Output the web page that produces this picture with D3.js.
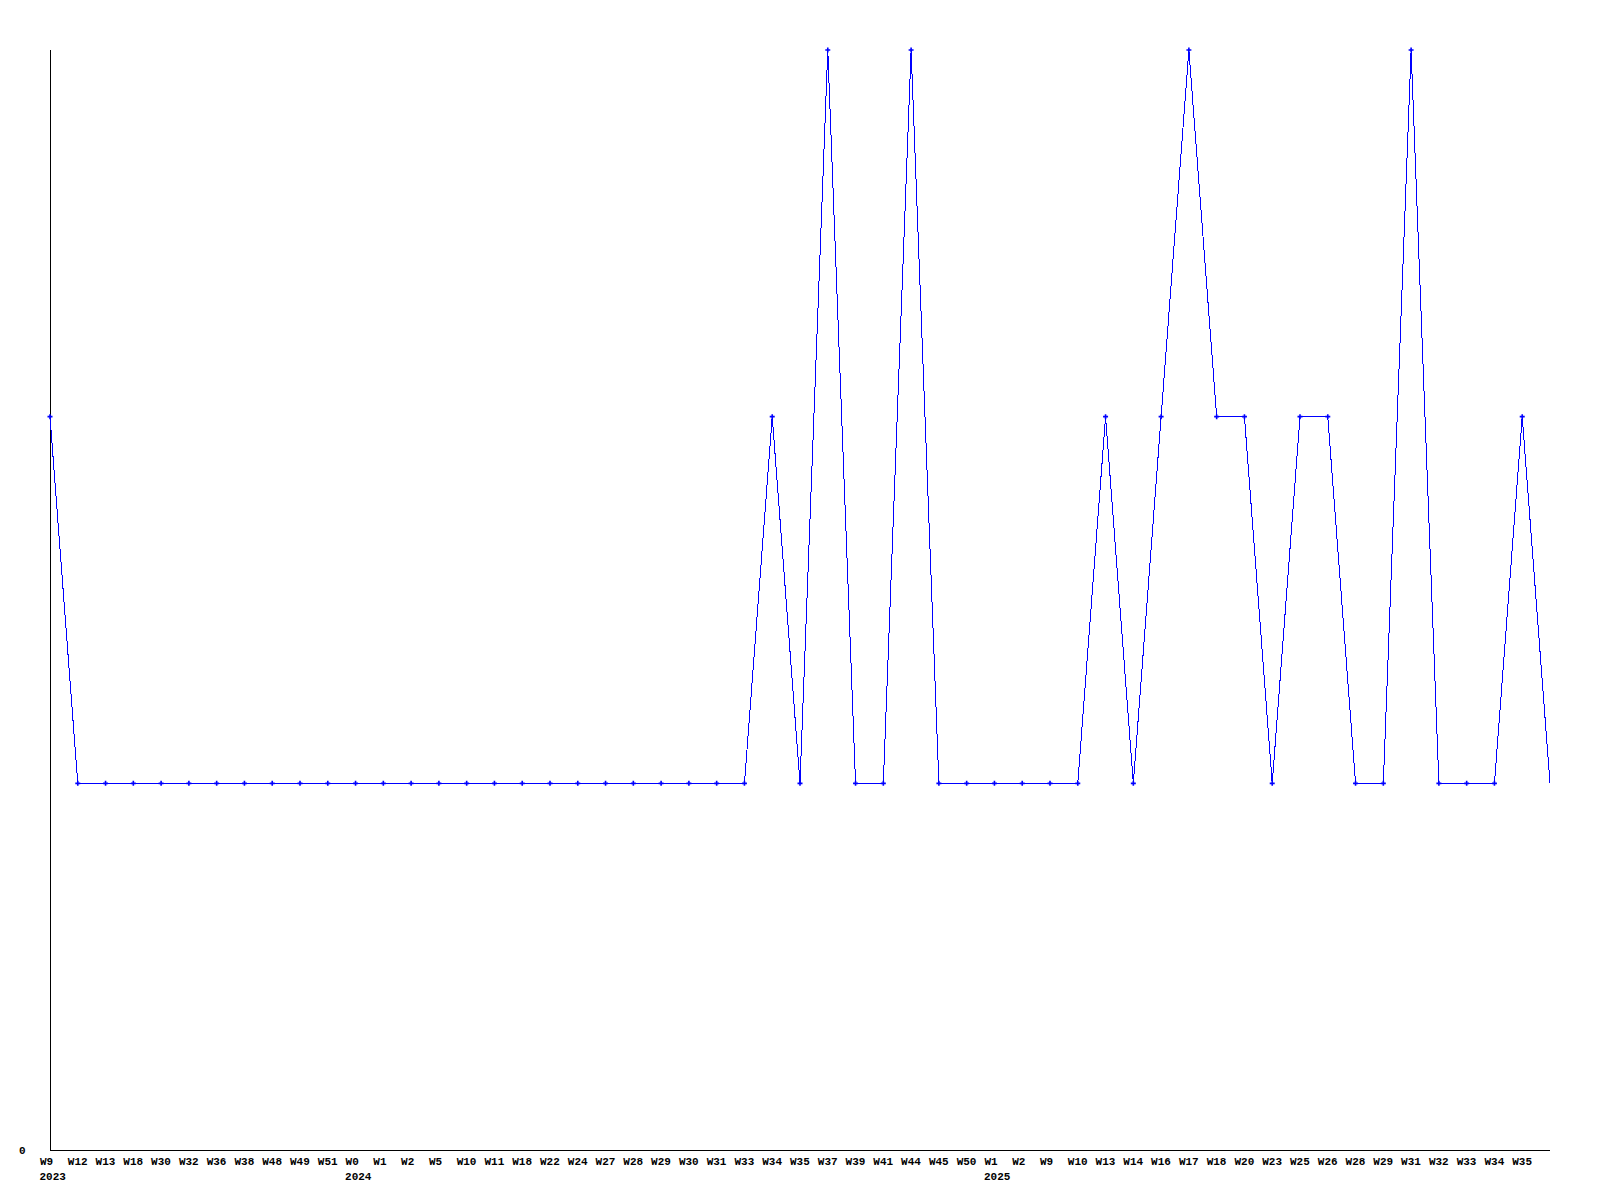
<!DOCTYPE html>
<html>
<head>
<meta charset="utf-8">
<script src="https://cdn.jsdelivr.net/npm/d3@7"></script>
<style>
  html, body { margin: 0; padding: 0; background: #fff; }
  svg { display: block; }
  text { font-family: "Liberation Mono", "DejaVu Sans Mono", monospace; font-weight: bold; font-size: 11px; fill: #000; }
</style>
</head>
<body>
<svg id="chart" width="1600" height="1200"></svg>
<script>
// Week labels (x categories); last point has no label
const weekLabels = [
  "W9","W12","W13","W18","W30","W32","W36","W38","W48","W49","W51",
  "W0","W1","W2","W5","W10","W11","W18","W22","W24","W27","W28","W29","W30","W31","W33","W34","W35","W37","W39","W41","W44","W45","W50",
  "W1","W2","W9","W10","W13","W14","W16","W17","W18","W20","W23","W25","W26","W28","W29","W31","W32","W33","W34","W35",
  ""
];
// Year labels shown under the first week of each year
const yearLabels = [
  { index: 0, label: "2023" },
  { index: 11, label: "2024" },
  { index: 34, label: "2025" }
];
// Series values
const values = [
  2,1,1,1,1,1,1,1,1,1,1,
  1,1,1,1,1,1,1,1,1,1,1,1,1,1,1,2,1,3,1,1,3,1,1,
  1,1,1,1,2,1,2,3,2,2,1,2,2,1,1,3,1,1,1,2,
  1
];
const yTicks = [0];

const svg = d3.select("#chart");
const mLeft = 50, mRight = 1550, mTop = 50, mBottom = 1150;

const x = d3.scalePoint().domain(d3.range(values.length)).range([mLeft, mRight]);
const y = d3.scaleLinear().domain([0, 3]).range([mBottom, mTop]);

// X axis
const xAxis = d3.axisBottom(x).tickSize(0).tickFormat(i => weekLabels[i]);
const gx = svg.append("g").attr("transform", `translate(0,${mBottom})`).call(xAxis);
gx.select(".domain").attr("stroke", "#000").attr("shape-rendering", "crispEdges")
  .attr("d", `M${mLeft},0.5H${mRight}`);
gx.selectAll(".tick text")
  .attr("text-anchor", "start")
  .attr("x", -10.5)
  .attr("y", 11.5)
  .attr("dy", "0.35em")
  .attr("font-family", null).attr("font-size", null);

// Y axis
const yAxis = d3.axisLeft(y).tickValues(yTicks).tickSize(0).tickFormat(d3.format("d"));
const gy = svg.append("g").attr("transform", `translate(${mLeft},0)`).call(yAxis);
gy.select(".domain").attr("stroke", "#000").attr("shape-rendering", "crispEdges")
  .attr("d", `M0.5,${mTop}V${mBottom}`);
gy.selectAll(".tick text")
  .attr("text-anchor", "start")
  .attr("x", -31)
  .attr("dy", "0.35em")
  .attr("font-family", null).attr("font-size", null);

// Year labels
svg.append("g").selectAll("text").data(yearLabels).join("text")
  .attr("x", d => x(d.index) - 10.5)
  .attr("y", mBottom + 26)
  .attr("dy", "0.35em")
  .text(d => d.label);

// Line
const line = d3.line().x((d, i) => x(i)).y(d => y(d));
svg.append("path").datum(values)
  .attr("fill", "none")
  .attr("stroke", "#0000ff")
  .attr("stroke-width", 1)
  .attr("shape-rendering", "crispEdges")
  .attr("d", line);

// Markers (plus shapes), none on the final unlabeled point
svg.append("g").selectAll("path")
  .data(values.slice(0, values.length - 1))
  .join("path")
  .attr("transform", (d, i) => `translate(${x(i)},${y(d)})`)
  .attr("d", "M-2.5,0H2.5M0,-2.5V2.5")
  .attr("stroke", "#0000ff")
  .attr("stroke-width", 1.6)
  .attr("fill", "none");
</script>
</body>
</html>
